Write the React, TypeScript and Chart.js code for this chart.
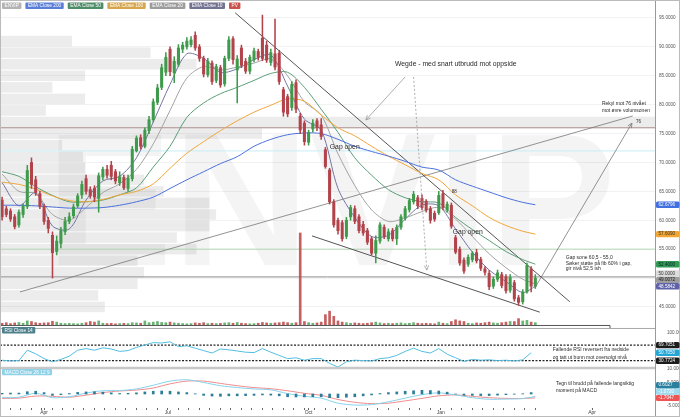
import React, { useEffect, useRef } from "react";
import { Chart, registerables } from "chart.js";

Chart.register(...registerables);

const FONT = '"Liberation Sans", Arial, Helvetica, sans-serif';
const UP = "#3f9a4c";
const DOWN = "#b3434b";

// ---------- price candles (one candle per two trading days) ----------
const candleOpen = [
  63.5, 62.0, 61.6, 60.6, 59.2, 61.0, 62.4, 70.0, 67.0, 64.6,
  62.4, 60.0, 57.4, 54.6, 56.0, 58.0, 59.8, 60.8, 62.5, 64.4,
  67.2, 65.3, 65.5, 63.8, 67.5, 68.8, 69.5, 68.4, 66.5, 67.4,
  65.5, 67.2, 72.0, 74.3, 72.8, 75.5, 77.4, 80.4, 83.0, 85.6,
  89.6, 85.5, 87.0, 89.6, 90.0, 90.4, 92.0, 90.0, 88.0, 85.2,
  87.2, 84.2, 86.4, 83.6, 88.0, 91.4, 86.0, 89.8, 87.5, 85.8,
  87.8, 89.2, 91.5, 90.3, 87.3, 88.8, 88.9, 82.6, 81.4, 79.5,
  83.8, 78.0, 76.8, 73.5, 75.8, 77.2, 76.5, 72.2, 68.7, 63.2,
  60.0, 59.6, 57.2, 60.6, 62.0, 60.6, 59.3, 58.2, 56.8, 54.3,
  56.4, 58.8, 56.8, 58.2, 56.8, 58.8, 60.4, 61.8, 63.2, 63.9,
  63.8, 63.3, 62.0, 61.2, 61.3, 64.6, 61.8, 62.6, 57.0, 55.0,
  53.1, 52.4, 53.2, 54.4, 53.2, 51.6, 50.8, 48.6, 49.8, 50.6,
  50.2, 47.9, 49.2, 46.6, 45.9, 47.6, 51.6, 48.6,
];
const candleHigh = [
  64.0, 62.4, 62.0, 61.0, 61.8, 62.8, 69.5, 70.8, 67.6, 65.0,
  62.8, 60.5, 58.0, 57.3, 58.8, 60.5, 61.3, 62.8, 64.6, 66.8,
  67.8, 65.8, 66.0, 68.2, 69.2, 69.5, 70.2, 68.8, 68.4, 67.8,
  67.8, 72.8, 74.6, 74.8, 76.0, 78.0, 81.0, 83.5, 87.0, 89.0,
  90.0, 88.3, 90.4, 90.8, 91.6, 91.8, 92.6, 90.4, 88.4, 88.0,
  87.6, 87.0, 86.8, 88.4, 91.8, 91.8, 88.5, 90.3, 88.0, 88.6,
  89.8, 89.6, 95.5, 91.0, 89.6, 94.8, 89.4, 83.0, 81.8, 84.0,
  84.3, 78.5, 77.2, 75.6, 77.4, 77.6, 77.6, 72.6, 69.0, 63.6,
  60.4, 60.0, 60.5, 62.6, 62.5, 61.0, 59.8, 58.6, 57.2, 57.3,
  59.6, 59.2, 58.5, 58.6, 59.2, 61.0, 62.4, 63.8, 65.0, 64.3,
  64.4, 63.6, 62.4, 61.6, 65.0, 65.2, 63.2, 63.0, 57.4, 55.4,
  53.5, 54.0, 54.6, 55.0, 53.6, 52.0, 51.3, 50.2, 51.4, 51.0,
  50.6, 50.6, 49.6, 47.0, 48.0, 52.6, 52.0, 50.6,
];
const candleLow = [
  60.0, 60.6, 59.8, 58.5, 58.8, 60.5, 62.0, 65.5, 64.3, 62.0,
  59.3, 57.8, 50.0, 54.0, 55.2, 57.5, 59.4, 60.4, 62.2, 63.8,
  64.5, 63.8, 63.2, 61.4, 67.0, 67.3, 67.0, 66.3, 66.0, 65.3,
  65.0, 66.8, 71.8, 72.3, 72.5, 75.0, 77.0, 80.0, 82.6, 85.0,
  85.0, 83.8, 86.6, 89.0, 89.6, 90.0, 89.4, 87.5, 84.8, 84.8,
  83.5, 83.8, 83.0, 83.2, 87.6, 87.0, 80.3, 86.4, 85.4, 85.3,
  87.4, 87.7, 87.6, 87.3, 86.8, 86.0, 83.5, 78.0, 77.9, 79.0,
  78.6, 75.0, 73.0, 73.0, 75.3, 75.5, 74.0, 69.0, 62.8, 58.8,
  57.6, 56.4, 56.8, 60.0, 59.4, 57.8, 57.4, 55.8, 54.0, 52.6,
  56.0, 56.8, 56.4, 56.4, 55.8, 58.4, 60.0, 61.4, 62.8, 62.0,
  61.8, 61.4, 59.5, 59.8, 61.0, 61.8, 61.4, 58.6, 54.2, 52.2,
  50.8, 52.0, 52.8, 52.6, 51.3, 50.5, 48.0, 48.2, 49.4, 48.3,
  47.4, 47.5, 46.0, 45.3, 45.5, 47.4, 47.6, 48.2,
];
const candleClose = [
  60.6, 61.0, 60.2, 58.9, 61.4, 62.4, 68.6, 66.2, 64.8, 62.4,
  59.8, 58.6, 54.4, 56.4, 58.2, 59.8, 60.6, 62.3, 64.2, 66.2,
  65.0, 64.2, 64.0, 67.7, 68.8, 67.8, 67.6, 66.8, 67.5, 65.6,
  67.3, 72.3, 74.2, 72.8, 75.6, 77.4, 80.5, 82.9, 86.4, 88.2,
  85.7, 87.5, 89.8, 90.3, 91.0, 91.2, 89.8, 88.0, 85.3, 87.5,
  84.0, 86.6, 83.4, 88.0, 91.2, 87.8, 87.9, 86.8, 85.8, 88.2,
  89.3, 88.2, 88.0, 87.7, 89.0, 86.5, 84.0, 78.7, 78.4, 83.5,
  79.2, 75.6, 73.6, 75.2, 76.8, 76.0, 74.5, 69.3, 63.2, 59.2,
  58.2, 56.8, 60.0, 62.2, 59.8, 58.2, 57.8, 56.2, 54.3, 56.5,
  59.2, 57.2, 58.0, 56.8, 58.8, 60.6, 62.0, 63.4, 64.5, 62.5,
  62.2, 61.8, 60.0, 60.2, 64.3, 62.2, 62.8, 59.0, 54.5, 52.6,
  51.2, 53.6, 54.3, 53.0, 51.7, 51.0, 48.5, 49.8, 50.9, 48.7,
  47.8, 50.1, 46.4, 45.8, 47.6, 52.2, 48.6, 50.0,
];
const volumeM = [
  0.15, 0.2, 0.12, 0.18, 0.22, 0.15, 0.35, 0.3, 0.2, 0.15,
  0.18, 0.2, 0.32, 0.25, 0.15, 0.12, 0.14, 0.12, 0.1, 0.15,
  0.2, 0.3, 0.25, 0.35, 0.15, 0.12, 0.14, 0.1, 0.12, 0.14,
  0.12, 0.2, 0.18, 0.15, 0.35, 0.2, 0.25, 0.3, 0.22, 0.2,
  0.25, 0.18, 0.15, 0.12, 0.1, 0.12, 0.18, 0.15, 0.2, 0.12,
  0.15, 0.12, 0.14, 0.18, 0.2, 0.15, 0.22, 0.15, 0.12, 0.1,
  0.12, 0.15, 0.22, 0.18, 0.15, 0.18, 0.2, 0.25, 0.2, 0.15,
  0.2, 8.0, 0.3, 0.2, 0.15, 0.18, 0.25, 0.9, 1.2, 0.75,
  0.35, 0.25, 0.2, 0.15, 0.18, 0.15, 0.12, 0.15, 0.2, 0.25,
  0.18, 0.12, 0.15, 0.12, 0.15, 0.18, 0.12, 0.15, 0.2, 0.15,
  0.12, 0.15, 0.12, 0.1, 0.25, 0.15, 0.12, 0.3, 0.45, 0.35,
  0.3, 0.15, 0.12, 0.18, 0.15, 0.2, 0.25, 0.18, 0.15, 0.2,
  0.25, 0.3, 0.3, 0.55, 0.35, 0.4, 0.25, 0.2,
];

// ---------- moving averages / MACD (sampled every 8 trading days) ----------
const emaDays = [1, 9, 17, 25, 33, 41, 49, 57, 65, 73, 81, 89, 97, 105, 113, 121, 129, 137, 145, 153, 161, 169, 177, 185, 193, 201, 209, 217, 225, 233, 241, 249, 255];
const ema200 = [62.6, 62.6, 62.5, 62.3, 62.1, 62.1, 62.2, 62.6, 63.2, 64.0, 65.5, 67.0, 68.4, 69.8, 71.0, 72.8, 74.0, 74.8, 75.1, 75.0, 74.0, 72.8, 71.9, 71.1, 70.2, 69.2, 68.7, 67.0, 65.9, 64.9, 63.9, 63.1, 62.68];
const ema100 = [66.6, 66.2, 65.4, 64.2, 63.4, 63.2, 63.6, 64.4, 65.0, 66.3, 69.0, 71.6, 73.6, 75.5, 77.2, 78.7, 79.9, 81.0, 80.6, 78.2, 76.0, 74.6, 72.8, 71.1, 69.6, 68.1, 67.0, 64.4, 62.5, 60.5, 59.1, 58.1, 57.61];
const ema50 = [68.4, 67.6, 65.8, 64.3, 63.2, 63.2, 63.5, 64.4, 65.6, 69.2, 72.8, 77.8, 80.3, 81.9, 83.0, 84.2, 85.4, 85.6, 83.0, 79.2, 75.2, 70.8, 67.8, 65.3, 63.9, 63.2, 63.0, 60.5, 58.4, 56.5, 54.6, 53.2, 52.4];
const ema20 = [68.0, 65.0, 64.6, 61.0, 60.0, 62.2, 64.8, 66.3, 68.8, 73.2, 79.0, 84.6, 86.6, 86.0, 86.5, 87.2, 87.9, 85.0, 80.5, 78.2, 71.5, 66.0, 61.8, 59.8, 60.4, 61.5, 62.2, 60.2, 57.2, 54.2, 51.8, 49.8, 49.01];
const ema10 = [66.5, 62.5, 64.8, 59.0, 58.5, 63.5, 66.8, 67.6, 70.8, 77.0, 83.5, 88.8, 88.0, 85.6, 86.2, 87.8, 88.6, 83.2, 77.5, 75.6, 65.5, 60.5, 57.2, 57.4, 60.2, 62.6, 62.5, 58.5, 54.5, 51.4, 49.4, 47.5, 48.58];
const macdLine = [-1.6, -1.4, 0.3, -1.6, -1.2, 0.4, 1.4, 1.5, 2.2, 3.8, 5.6, 6.2, 5.0, 3.6, 2.8, 2.2, 1.8, 0.2, -1.0, -1.8, -4.0, -4.8, -4.6, -3.4, -1.8, -0.3, 0.5, -0.4, -1.6, -2.3, -2.2, -2.0, -1.07];
const macdSignal = [-1.9, -1.8, -0.9, -1.0, -1.4, -0.5, 0.6, 1.3, 1.7, 2.6, 4.4, 5.6, 5.6, 4.6, 3.6, 2.8, 2.3, 1.4, 0.3, -0.6, -2.4, -3.6, -4.2, -4.0, -3.0, -1.9, -0.8, -0.4, -1.0, -1.6, -1.9, -1.95, -1.7];

// ---------- oscillators (sampled every 4 trading days) ----------
const rsiValues = [
  32, 30, 31, 57, 48, 36, 28, 34, 42, 57, 61, 57, 63, 60, 54, 56, 64, 70, 76, 75,
  78, 66, 68, 62, 56, 50, 60, 58, 55, 52, 51, 61, 52, 44, 36, 38, 32, 36, 36, 24,
  15, 28, 32, 31, 30, 36, 38, 44, 54, 62, 54, 50, 61, 47, 38, 29, 34, 32, 33, 31,
  32, 30, 33, 50.7,
];
const macdHist = [
  0.3, 0.4, 0.4, 1.0, 1.2, 0.6, -0.6, -0.3, 0.2, 0.7, 0.9, 1.0, 0.8, 0.5, 0.2, 0.3,
  0.5, 0.9, 1.2, 1.3, 1.2, 0.9, 0.6, 0.1, -0.6, -0.9, -1.0, -0.8, -0.8, -0.7, -0.6, -0.4,
  -0.5, -0.8, -1.2, -1.3, -1.3, -1.2, -1.2, -1.6, -1.6, -1.4, -1.2, -0.8, -0.4, 0.2, 0.6, 0.9,
  1.2, 1.4, 1.6, 1.5, 1.3, 0.8, 0.0, -0.5, -0.6, -0.7, -0.7, -0.5, -0.3, -0.1, 0.1, 0.6,
];
const rsiLevels = [69.7051, 30.7724];

// ---------- axes ----------
const monthTickDays = [21, 80, 147, 210, 282];
const monthTickLabels = ["Apr", "Jul", "Oct", "Jan", "Apr"];
const priceTicks = [45, 50, 55, 60, 65, 70, 75, 80, 85, 90, 95];
const rsiTicks = [100, 10];
const macdTicks = [5, -5];

// ---------- drawn levels, trend lines, volume profile ----------
const levelPrices = [76, 72, 55, 50.2];
const levelColors = ["#a58787", "#c6ecf4", "#b7d7b7", "#8d8d8d"];
const upperWedgeDays = [112, 271.4];
const upperWedgePrices = [95.9, 45.9];
const lowerWedgeDays = [148.6, 257.1];
const lowerWedgePrices = [57.3, 44.1];
const supportDays = [9.5, 301.4];
const supportPrices = [47.6, 78.05];
const profileTop = [92, 90, 88, 86, 84, 82, 80, 78, 76, 74, 72, 70, 68, 66, 64, 62, 60, 58, 56, 54, 52, 50, 48, 46];
const profileVolume = [11, 23, 30, 13, 8, 13, 7, 100, 40, 9.5, 12.7, 13, 22, 25, 32, 33, 32, 27, 30, 21, 22, 21, 15, 16];

const legendItems = ["ENVIP", "EMA Close 200", "EMA Close 50", "EMA Close 100", "EMA Close 20", "EMA Close 10", "PV"];
const legendColors = ["#b3b3b3", "#5b7fd6", "#4f8c68", "#d6a64c", "#9c9c9c", "#727292", "#c9524c"];

const arrows = [
  { days: [254.8, 301], values: [48.3, 76.8], dash: [] as number[], color: "#777" },
  { days: [193, 174.3], values: [84.8, 77.35], dash: [] as number[], color: "#999" },
  { days: [197, 203.3], values: [84.8, 51.4], dash: [2, 2], color: "#999" },
];

const notes = [
  { text: "Wegde - med snart utbrudd mot oppside", day: 217.1, value: 87.0, axis: "y", size: 6.8, align: "center" },
  { text: "Gap open", day: 157.1, value: 72.7, axis: "y", size: 6.8, align: "left" },
  { text: "Gap open", day: 215.7, value: 58.0, axis: "y", size: 6.8, align: "left" },
  { text: "88", day: 215.2, value: 64.9, axis: "y", size: 4.5, align: "left" },
  { text: "Rekyl mot 76 nivået", day: 286.7, value: 80.2, axis: "y", size: 5, align: "left" },
  { text: "mot øvre volumsonen", day: 286.7, value: 78.95, axis: "y", size: 5, align: "left" },
  { text: "76", day: 303, value: 77.0, axis: "y", size: 4.5, align: "left" },
  { text: "Gap sone 60,5 - 55,0", day: 269.5, value: 53.6, axis: "y", size: 5, align: "left" },
  { text: "Søker støtte på fib 60% i gap,", day: 269.5, value: 52.55, axis: "y", size: 5, align: "left" },
  { text: "gir nivå 52,5 ish", day: 269.5, value: 51.55, axis: "y", size: 5, align: "left" },
  { text: "Fallende RSI reversert fra nedside", day: 263.3, value: 57.5, axis: "yRsi", size: 5, align: "left" },
  { text: "og tatt ut bunn mot oversolgt nivå", day: 263.3, value: 39.2, axis: "yRsi", size: 5, align: "left" },
  { text: "Tegn til brudd på fallende langsiktig", day: 264.8, value: 4.35, axis: "yMacd", size: 5, align: "left" },
  { text: "moment på MACD", day: 264.8, value: 1.5, axis: "yMacd", size: 5, align: "left" },
];

const valueLabels = [
  { axis: "y", value: 62.6796, bg: "#3f6fe0", fg: "#fff" },
  { axis: "y", value: 57.609, bg: "#f2a531", fg: "#333" },
  { axis: "y", value: 52.4, bg: "#2f9a52", fg: "#123" },
  { axis: "y", value: 50.0, bg: "#dcdcdc", fg: "#333" },
  { axis: "y", value: 49.0072, bg: "#9d9d9d", fg: "#222" },
  { axis: "y", value: 48.5842, bg: "#5f62a8", fg: "#fff" },
  { axis: "yRsi", value: 69.7051, bg: "#1c1c1c", fg: "#fff" },
  { axis: "yRsi", value: 50.705, bg: "#22a6d6", fg: "#fff" },
  { axis: "yRsi", value: 30.7724, bg: "#1c1c1c", fg: "#fff" },
  { axis: "yMacd", value: 0.6027, bg: "#2a7f9e", fg: "#fff" },
  { axis: "yMacd", value: -1.072, bg: "#9fdaef", fg: "#fff" },
  { axis: "yMacd", value: -1.7047, bg: "#f05353", fg: "#fff" },
];

function rr(ctx: CanvasRenderingContext2D, x: number, y: number, w: number, h: number, r: number) {
  ctx.beginPath();
  ctx.moveTo(x + r, y);
  ctx.arcTo(x + w, y, x + w, y + h, r);
  ctx.arcTo(x + w, y + h, x, y + h, r);
  ctx.arcTo(x, y + h, x, y, r);
  ctx.arcTo(x, y, x + w, y, r);
  ctx.closePath();
}

const overlayPlugin = {
  id: "overlay",
  afterLayout(chart: any) {
    // right-hand axes share the same strip; widen their boxes so their labels are not clipped
    ["y", "yRsi", "yMacd"].forEach((id) => {
      const s = chart.scales[id];
      if (s) {
        s.right = chart.width;
        s.width = chart.width - s.left;
      }
    });
  },
  beforeDatasetsDraw(chart: any) {
    const { ctx, chartArea, scales } = chart;
    const y = scales.y;
    const width = chartArea.right - chartArea.left;
    ctx.save();
    // volume profile
    ctx.fillStyle = "rgba(0,0,0,0.075)";
    profileTop.forEach((p, i) => {
      const t = y.getPixelForValue(p);
      const b = y.getPixelForValue(p - 2);
      ctx.fillRect(chartArea.left, t + 0.5, (profileVolume[i] / 100) * width, b - t - 1);
    });
    // watermark
    ctx.font = `bold 190px ${FONT}`;
    ctx.fillStyle = "rgba(0,0,0,0.045)";
    ctx.textAlign = "center";
    ctx.textBaseline = "alphabetic";
    ctx.fillText("ENVIP", chartArea.left + width * 0.505, y.getPixelForValue(52.3));
    ctx.restore();
  },
  afterDatasetsDraw(chart: any) {
    const { ctx, chartArea, scales } = chart;
    const x = scales.x;
    const L = chartArea.left;
    const R = chartArea.right;
    ctx.save();
    // panel separators
    const volBase = scales.yVol.getPixelForValue(0);
    ctx.strokeStyle = "#555";
    ctx.lineWidth = 1;
    ctx.beginPath();
    ctx.moveTo(L, volBase + 0.5);
    ctx.lineTo(610, volBase + 0.5);
    ctx.lineTo(610, volBase + 3.5);
    ctx.stroke();
    ctx.strokeStyle = "#a8a8a8";
    ctx.beginPath();
    ctx.moveTo(L, volBase + 3.5);
    ctx.lineTo(R, volBase + 3.5);
    ctx.stroke();
    const sep = scales.yRsi.getPixelForValue(12.5);
    ctx.strokeStyle = "#c8c8c8";
    ctx.lineWidth = 2.5;
    ctx.beginPath();
    ctx.moveTo(L, sep);
    ctx.lineTo(R, sep);
    ctx.stroke();
    // right axis line and frame
    ctx.lineWidth = 1;
    ctx.strokeStyle = "#9a9a9a";
    ctx.beginPath();
    ctx.moveTo(R + 0.5, 0);
    ctx.lineTo(R + 0.5, chart.height);
    ctx.stroke();
    ctx.strokeStyle = "#bbb";
    ctx.strokeRect(0.5, 0.5, chart.width - 1, chart.height - 1);

    // arrows
    arrows.forEach((a) => {
      const x1 = x.getPixelForValue(a.days[0]);
      const y1 = scales.y.getPixelForValue(a.values[0]);
      const x2 = x.getPixelForValue(a.days[1]);
      const y2 = scales.y.getPixelForValue(a.values[1]);
      ctx.strokeStyle = a.color;
      ctx.lineWidth = 0.8;
      ctx.setLineDash(a.dash);
      ctx.beginPath();
      ctx.moveTo(x1, y1);
      ctx.lineTo(x2, y2);
      ctx.stroke();
      ctx.setLineDash([]);
      const ang = Math.atan2(y2 - y1, x2 - x1);
      const s = 5;
      ctx.beginPath();
      ctx.moveTo(x2 - s * Math.cos(ang - 0.45), y2 - s * Math.sin(ang - 0.45));
      ctx.lineTo(x2, y2);
      ctx.lineTo(x2 - s * Math.cos(ang + 0.45), y2 - s * Math.sin(ang + 0.45));
      ctx.stroke();
    });

    // notes
    notes.forEach((n) => {
      ctx.font = `${n.size}px ${FONT}`;
      ctx.fillStyle = "#2a2a2a";
      ctx.textAlign = n.align as CanvasTextAlign;
      ctx.textBaseline = "middle";
      ctx.fillText(n.text, x.getPixelForValue(n.day), scales[n.axis].getPixelForValue(n.value));
    });

    // legend
    ctx.font = `4.8px ${FONT}`;
    ctx.textAlign = "left";
    ctx.textBaseline = "middle";
    let lx = 2;
    legendItems.forEach((t, i) => {
      const w = ctx.measureText(t).width + 5;
      ctx.fillStyle = legendColors[i];
      rr(ctx, lx, 2.5, w, 6.5, 1);
      ctx.fill();
      ctx.fillStyle = "#fff";
      ctx.fillText(t, lx + 2.5, 5.9);
      lx += w + 4;
    });
    // panel titles
    const panelTitles = [
      { text: "RSI Close 14", y: scales.yRsi.getPixelForValue(107), bg: "#4e808c" },
      { text: "MACD Close 26 12 9", y: scales.yMacd.getPixelForValue(9.5), bg: "#8fd2e7" },
    ];
    panelTitles.forEach((p) => {
      const w = ctx.measureText(p.text).width + 5;
      ctx.fillStyle = p.bg;
      rr(ctx, 2, p.y - 3.2, w, 6.4, 1);
      ctx.fill();
      ctx.fillStyle = "#fff";
      ctx.fillText(p.text, 4.5, p.y + 0.1);
    });

    // right axis value labels (stacked to avoid overlap)
    const groups: Record<string, any[]> = {};
    valueLabels.forEach((v) => {
      const yy = scales[v.axis].getPixelForValue(v.value);
      (groups[v.axis] = groups[v.axis] || []).push({ ...v, py: yy });
    });
    ctx.font = `4.6px ${FONT}`;
    Object.values(groups).forEach((arr) => {
      arr.sort((a, b) => b.py - a.py);
      for (let i = 1; i < arr.length; i++) arr[i].py = Math.min(arr[i].py, arr[i - 1].py - 6.4);
      arr.forEach((v) => {
        ctx.fillStyle = v.bg;
        rr(ctx, R + 1, v.py - 3.2, chart.width - R - 1.5, 6.4, 1.5);
        ctx.fill();
        ctx.fillStyle = v.fg;
        ctx.textAlign = "left";
        ctx.fillText(v.value.toFixed(4), R + 3.5, v.py + 0.1);
      });
    });
    ctx.restore();
  },
};

export default function App() {
  const ref = useRef<HTMLCanvasElement>(null);

  useEffect(() => {
    const canvas = ref.current;
    if (!canvas) return;

    const candleDays = candleOpen.map((_, i) => 1 + 2 * i);
    const oscDays = rsiValues.map((_, k) => 1 + 4 * k);
    const colors = candleOpen.map((o, i) => (candleClose[i] >= o ? UP : DOWN));
    const volColors = candleOpen.map((o, i) => (candleClose[i] >= o ? "rgba(88,172,100,0.9)" : "rgba(192,78,78,0.9)"));

    const line = (xs: number[], ys: number[], color: string, axis: string, extra: any = {}) => ({
      type: "line",
      data: xs.map((d, i) => ({ x: d, y: ys[i] })),
      borderColor: color,
      backgroundColor: color,
      borderWidth: 1,
      pointRadius: 0,
      fill: false,
      tension: 0,
      yAxisID: axis,
      xAxisID: "x",
      order: 3,
      ...extra,
    });

    const minorTicks: number[] = [];
    for (let d = 0; d <= 255; d += 5) minorTicks.push(d);
    const allTicks = Array.from(new Set([...minorTicks, ...monthTickDays])).sort((a, b) => a - b);

    const datasets: any[] = [
      {
        type: "bar",
        data: candleDays.map((d, i) => ({ x: d, y: [Math.min(candleOpen[i], candleClose[i]), Math.max(candleOpen[i], candleClose[i])] })),
        backgroundColor: colors,
        barThickness: 2.4,
        grouped: false,
        borderWidth: 0,
        yAxisID: "y",
        xAxisID: "x",
        order: 0,
      },
      {
        type: "bar",
        data: candleDays.map((d, i) => ({ x: d, y: [candleLow[i], candleHigh[i]] })),
        backgroundColor: colors,
        barThickness: 0.9,
        grouped: false,
        borderWidth: 0,
        yAxisID: "y",
        xAxisID: "x",
        order: 1,
      },
      {
        type: "bar",
        data: candleDays.map((d, i) => ({ x: d, y: volumeM[i] })),
        backgroundColor: volColors,
        barThickness: 2,
        grouped: false,
        borderWidth: 0,
        yAxisID: "yVol",
        xAxisID: "x",
        order: 2,
      },
      line(emaDays, ema200, "#4a70de", "y", { tension: 0.3 }),
      line(emaDays, ema100, "#f0a63a", "y", { tension: 0.3 }),
      line(emaDays, ema50, "#5a9e78", "y", { tension: 0.3 }),
      line(emaDays, ema20, "#a3a3a3", "y", { tension: 0.3 }),
      line(emaDays, ema10, "#7474a6", "y", { tension: 0.3 }),
      line(upperWedgeDays, upperWedgePrices, "#555", "y", { order: 4 }),
      line(lowerWedgeDays, lowerWedgePrices, "#555", "y", { order: 4 }),
      line(supportDays, supportPrices, "#777", "y", { order: 4, borderWidth: 0.8 }),
      ...levelPrices.map((p, i) => line([0, 312], [p, p], levelColors[i], "y", { order: 5 })),
      line(oscDays, rsiValues, "#54bde0", "yRsi"),
      ...rsiLevels.map((v) => line([0, 312], [v, v], "#222", "yRsi", { borderDash: [2, 1.5], borderWidth: 1.2, order: 4 })),
      line(emaDays, macdLine, "#86d2ec", "yMacd", { tension: 0.3 }),
      line(emaDays, macdSignal, "#f08c8c", "yMacd", { tension: 0.3 }),
      {
        type: "bar",
        data: oscDays.map((d, k) => ({ x: d, y: macdHist[k] })),
        backgroundColor: "#2b7d98",
        barThickness: 2,
        grouped: false,
        borderWidth: 0,
        yAxisID: "yMacd",
        xAxisID: "x",
        order: 2,
      },
    ];

    const rightAxis = (min: number, max: number, ticks: number[], grid: any) => ({
      type: "linear",
      position: "right",
      min,
      max,
      afterBuildTicks: (s: any) => {
        s.ticks = ticks.map((v) => ({ value: v }));
      },
      afterFit: (s: any) => {
        s.width = 0;
        s.paddingTop = 0;
        s.paddingBottom = 0;
      },
      ticks: {
        font: { size: 4.6, family: FONT },
        color: "#555",
        padding: 4,
        autoSkip: false,
        callback: (v: any) => Number(v).toFixed(4),
      },
      grid,
      border: { display: false },
    });

    const chart = new Chart(canvas, {
      type: "line",
      data: { datasets },
      options: {
        animation: false,
        responsive: false,
        events: [],
        layout: { padding: { left: 0, right: 25, top: 0, bottom: 0 } },
        plugins: { legend: { display: false }, tooltip: { enabled: false } },
        scales: {
          x: {
            type: "linear",
            position: "bottom",
            min: 0,
            max: 312,
            offset: false,
            afterBuildTicks: (s: any) => {
              s.ticks = allTicks.map((v) => ({ value: v }));
            },
            afterFit: (s: any) => {
              s.height = 9;
              s.paddingLeft = 0;
              s.paddingRight = 0;
            },
            grid: { drawOnChartArea: false, drawTicks: true, tickLength: 2, color: "#666", offset: false },
            border: { display: false },
            ticks: {
              autoSkip: false,
              maxRotation: 0,
              padding: 0,
              font: { size: 5, family: FONT },
              color: "#444",
              callback: (v: any) => {
                const idx = monthTickDays.indexOf(Number(v));
                return idx >= 0 ? monthTickLabels[idx] : "";
              },
            },
          },
          y: rightAxis(27.52, 98.11, priceTicks, { color: "#f2f2f2", drawTicks: false }),
          yRsi: rightAxis(-87.5, 932.5, rsiTicks, { display: false }),
          yMacd: rightAxis(-6.09, 171.3, macdTicks, { display: false }),
          yVol: { type: "linear", display: false, min: -7.22, max: 28.26 },
        },
      } as any,
      plugins: [overlayPlugin],
    } as any);

    return () => chart.destroy();
  }, []);

  return (
    <div style={{ position: "fixed", left: 0, top: 0, width: 680, height: 417, background: "#fff" }}>
      <canvas ref={ref} width={680} height={417} style={{ display: "block", width: 680, height: 417 }} />
    </div>
  );
}
